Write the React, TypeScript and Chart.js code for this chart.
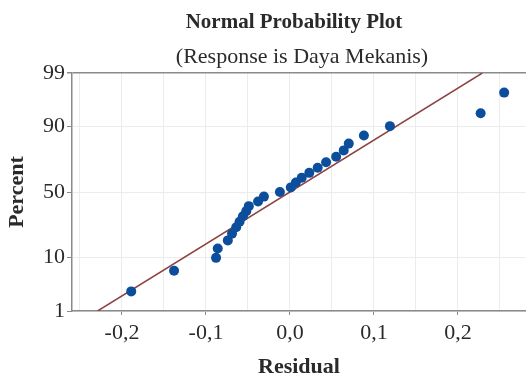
import React, { useEffect, useRef } from "react";
import { Chart, registerables } from "chart.js";

Chart.register(...registerables);

// ---- data ----
const residuals = [
  -0.189, -0.138, -0.088, -0.086, -0.074, -0.069, -0.064, -0.060, -0.056,
  -0.052, -0.049, -0.038, -0.031, -0.012, 0.001, 0.007, 0.014, 0.023,
  0.033, 0.043, 0.055, 0.064, 0.070, 0.088, 0.119, 0.227, 0.255,
];
const percents = [
  2.6, 6.2, 9.9, 13.5, 17.2, 20.8, 24.5, 28.1, 31.8, 35.4, 39.1, 42.7,
  46.4, 50.0, 53.6, 57.3, 61.0, 64.6, 68.2, 71.9, 75.5, 79.2, 82.8, 86.5,
  90.1, 93.8, 97.4,
];
const fitResidual = [-0.229, 0.229];
const fitPercent = [1, 99];
const yTickPercents = [1, 10, 50, 90, 99];
const yTickLabels = ["1", "10", "50", "90", "99"];
const xTickValues = [-0.25, -0.2, -0.15, -0.1, -0.05, 0, 0.05, 0.1, 0.15, 0.2, 0.25];
const xLabelled = [-0.2, -0.1, 0, 0.1, 0.2];
const titleText = "Normal Probability Plot";
const subtitleText = "(Response is Daya Mekanis)";

// inverse standard normal CDF (probability-axis transform)
function probit(p: number): number {
  const a = [-3.969683028665376e1, 2.209460984245205e2, -2.759285104469687e2, 1.38357751867269e2, -3.066479806614716e1, 2.506628277459239];
  const b = [-5.447609879822406e1, 1.615858368580409e2, -1.556989798598866e2, 6.680131188771972e1, -1.328068155288572e1];
  const c = [-7.784894002430293e-3, -3.223964580411365e-1, -2.400758277161838, -2.549732539343734, 4.374664141464968, 2.938163982698783];
  const d = [7.784695709041462e-3, 3.224671290700398e-1, 2.445134137142996, 3.754408661907416];
  const plow = 0.02425;
  const phigh = 1 - plow;
  let q: number, r: number;
  if (p < plow) {
    q = Math.sqrt(-2 * Math.log(p));
    return (((((c[0] * q + c[1]) * q + c[2]) * q + c[3]) * q + c[4]) * q + c[5]) / ((((d[0] * q + d[1]) * q + d[2]) * q + d[3]) * q + 1);
  }
  if (p <= phigh) {
    q = p - 0.5;
    r = q * q;
    return ((((((a[0] * r + a[1]) * r + a[2]) * r + a[3]) * r + a[4]) * r + a[5]) * q) / (((((b[0] * r + b[1]) * r + b[2]) * r + b[3]) * r + b[4]) * r + 1);
  }
  q = Math.sqrt(-2 * Math.log(1 - p));
  return -(((((c[0] * q + c[1]) * q + c[2]) * q + c[3]) * q + c[4]) * q + c[5]) / ((((d[0] * q + d[1]) * q + d[2]) * q + d[3]) * q + 1);
}
const z = (pct: number) => probit(pct / 100);

const FONT = "'Liberation Serif', 'Times New Roman', serif";
const TEXT = "#2a2a2a";

const titlePlugin = {
  id: "mtbTitles",
  afterDraw(chart: any) {
    const ctx = chart.ctx;
    ctx.save();
    ctx.fillStyle = TEXT;
    ctx.textAlign = "center";
    ctx.textBaseline = "alphabetic";
    ctx.font = `bold 21px ${FONT}`;
    ctx.fillText(titleText, 294, 28);
    ctx.font = `22px ${FONT}`;
    ctx.fillText(subtitleText, 302, 63);
    ctx.restore();
  },
};

export default function App() {
  const ref = useRef<HTMLCanvasElement | null>(null);
  useEffect(() => {
    if (!ref.current) return;
    const yMin = z(1);
    const yMax = z(99);
    const chart = new Chart(ref.current, {
      type: "scatter",
      data: {
        datasets: [
          {
            label: "Residuals",
            data: residuals.map((r, i) => ({ x: r, y: z(percents[i]) })),
            backgroundColor: "#0c4e9b",
            borderColor: "#0c4e9b",
            pointRadius: 5,
            pointHoverRadius: 5,
            borderWidth: 0,
          },
          {
            label: "Fit",
            type: "line",
            data: fitResidual.map((r, i) => ({ x: r, y: z(fitPercent[i]) })),
            borderColor: "#8e4242",
            borderWidth: 1.5,
            pointRadius: 0,
            showLine: true,
            fill: false,
          } as any,
        ],
      },
      options: {
        animation: false,
        responsive: false,
        layout: { autoPadding: false, padding: { top: 73, right: 0, left: 0, bottom: 0 } },
        plugins: { legend: { display: false }, tooltip: { enabled: false }, title: { display: false } },
        scales: {
          x: {
            type: "linear",
            min: -0.2595,
            max: 0.281,
            afterFit(scale: any) {
              scale.height = 72;
              scale.paddingLeft = 0;
              scale.paddingRight = 0;
            },
            afterBuildTicks(scale: any) {
              scale.ticks = xTickValues.map((v) => ({ value: v }));
            },
            ticks: {
              padding: 5,
              color: TEXT,
              font: { family: FONT, size: 22 },
              maxRotation: 0,
              autoSkip: false,
              callback(value: any) {
                const v = Number(value);
                const on = xLabelled.some((l) => Math.abs(l - v) < 1e-6);
                return on ? v.toFixed(1).replace(".", ",") : "";
              },
            },
            grid: {
              color: "#ececec",
              lineWidth: 1,
              tickLength: 4,
              tickColor: (ctx: any) => {
                const v = ctx.tick ? ctx.tick.value : 0;
                return xLabelled.some((l) => Math.abs(l - v) < 1e-6) ? "#8a8a8a" : "rgba(0,0,0,0)";
              },
            },
            border: { color: "#8a8a8a", width: 1.5 },
            title: {
              display: true,
              text: "Residual",
              color: TEXT,
              font: { family: FONT, size: 22, weight: "bold" },
              padding: { top: 0, bottom: 2 },
            },
          },
          y: {
            type: "linear",
            min: yMin,
            max: yMax,
            afterFit(scale: any) {
              scale.width = 72;
            },
            afterBuildTicks(scale: any) {
              scale.ticks = yTickPercents.map((p) => ({ value: z(p) }));
            },
            ticks: {
              padding: 2,
              color: TEXT,
              font: { family: FONT, size: 22 },
              autoSkip: false,
              callback(_value: any, index: number) {
                return yTickLabels[index];
              },
            },
            grid: {
              color: (ctx: any) => (ctx.index === yTickPercents.length - 1 ? "#8a8a8a" : "#ececec"),
              lineWidth: (ctx: any) => (ctx.index === yTickPercents.length - 1 ? 1.5 : 1),
              tickLength: 5,
              tickColor: "#8a8a8a",
            },
            border: { color: "#8a8a8a", width: 1.5 },
            title: {
              display: true,
              text: "Percent",
              color: TEXT,
              font: { family: FONT, size: 22, weight: "bold" },
              padding: { top: 4, bottom: 0 },
            },
          },
        },
      },
      plugins: [titlePlugin],
    });
    return () => chart.destroy();
  }, []);
  return (
    <div style={{ position: "absolute", left: 0, top: 0, width: 526, height: 383, background: "#fff" }}>
      <canvas ref={ref} width={526} height={383} />
    </div>
  );
}
